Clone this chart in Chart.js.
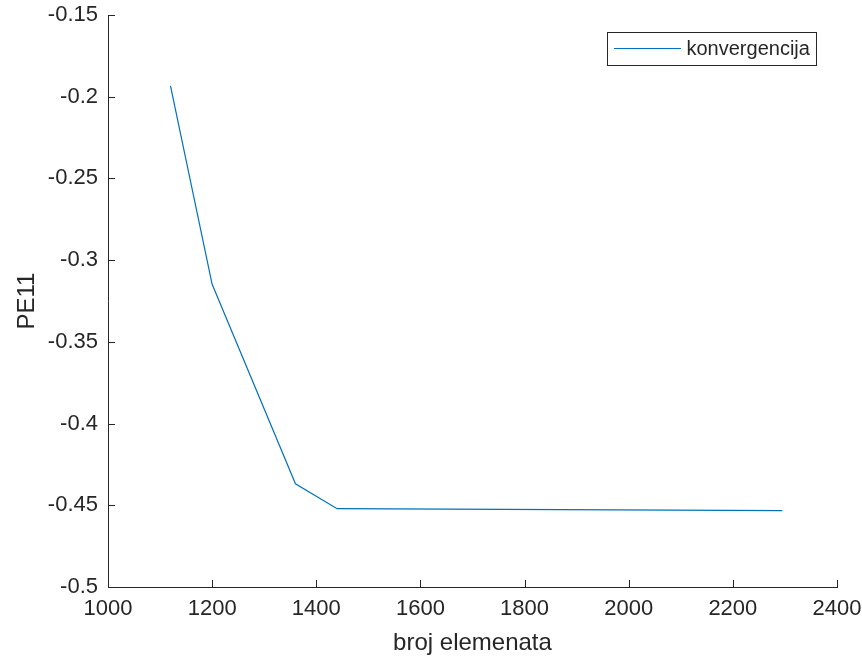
<!DOCTYPE html>
<html>
<head>
<meta charset="utf-8">
<script src="https://cdn.jsdelivr.net/npm/chart.js@4"></script>
<style>
html,body{margin:0;padding:0;background:#fff;}
#wrap{width:862px;height:660px;}
</style>
</head>
<body>
<div id="wrap"><canvas id="c" width="862" height="660"></canvas></div>
<script>
// ---- data ----
const elementCounts = [1120, 1200, 1360, 1440, 2295];
const pe11Values = [-0.1934, -0.3148, -0.4368, -0.4521, -0.4533];
const seriesLabel = 'konvergencija';
const xTickValues = [1000, 1200, 1400, 1600, 1800, 2000, 2200, 2400];
const yTickValues = [-0.5, -0.45, -0.4, -0.35, -0.3, -0.25, -0.2, -0.15];
const xTitle = 'broj elemenata';
const yTitle = 'PE11';

const FONT = "'Liberation Sans', Arial, Helvetica, sans-serif";
const TXT = '#262626';
const LINE = '#0072BD';

const points = elementCounts.map((x, i) => ({x: x, y: pe11Values[i]}));

// inward ticks + legend box (MATLAB style)
const matlabDecor = {
  id: 'matlabDecor',
  afterDraw(chart) {
    const ctx = chart.ctx;
    const xs = chart.scales.x, ys = chart.scales.y;
    const a = chart.chartArea;
    const tl = 7;
    ctx.save();
    ctx.strokeStyle = TXT;
    ctx.lineWidth = 1;
    ctx.beginPath();
    xTickValues.forEach(v => {
      const px = Math.round(xs.getPixelForValue(v)) + 0.5;
      ctx.moveTo(px, a.bottom);
      ctx.lineTo(px, a.bottom - tl);
    });
    yTickValues.forEach(v => {
      const py = Math.round(ys.getPixelForValue(v)) + 0.5;
      ctx.moveTo(a.left, py);
      ctx.lineTo(a.left + tl, py);
    });
    ctx.stroke();

    // legend
    const ds = chart.data.datasets[0];
    const bx = 607.5, by = 32.5, bw = 209, bh = 33;
    ctx.fillStyle = '#fff';
    ctx.fillRect(bx, by, bw, bh);
    ctx.strokeStyle = TXT;
    ctx.lineWidth = 1;
    ctx.strokeRect(bx, by, bw, bh);
    ctx.strokeStyle = ds.borderColor;
    ctx.lineWidth = ds.borderWidth;
    ctx.beginPath();
    ctx.moveTo(614, 48.5);
    ctx.lineTo(681, 48.5);
    ctx.stroke();
    ctx.fillStyle = TXT;
    ctx.font = '20px ' + FONT;
    ctx.textBaseline = 'middle';
    ctx.textAlign = 'left';
    ctx.fillText(ds.label, 686.5, 49.5);
    ctx.restore();
  }
};

new Chart(document.getElementById('c'), {
  type: 'line',
  data: {
    datasets: [{
      label: seriesLabel,
      data: points,
      borderColor: LINE,
      backgroundColor: LINE,
      borderWidth: 1.2,
      pointRadius: 0,
      tension: 0,
      fill: false
    }]
  },
  options: {
    responsive: false,
    animation: false,
    devicePixelRatio: 1,
    layout: {padding: {left: 0, top: 15, right: 25, bottom: 0}},
    plugins: {legend: {display: false}, tooltip: {enabled: false}},
    scales: {
      x: {
        type: 'linear',
        min: 1000, max: 2400,
        afterBuildTicks: s => { s.ticks = xTickValues.map(v => ({value: v})); },
        afterFit: s => { s.height = 73; s.paddingLeft = 0; s.paddingRight = 0; },
        ticks: {
          color: TXT,
          font: {family: FONT, size: 22},
          padding: 9,
          maxRotation: 0,
          autoSkip: false,
          callback: v => String(v)
        },
        grid: {display: false, drawTicks: false},
        border: {display: true, color: TXT, width: 1},
        title: {
          display: true, text: xTitle, color: TXT,
          font: {family: FONT, size: 24}, padding: {top: 0, bottom: 2}
        }
      },
      y: {
        type: 'linear',
        min: -0.5, max: -0.15,
        afterBuildTicks: s => { s.ticks = yTickValues.map(v => ({value: v})); },
        afterFit: s => { s.width = 108; s.paddingTop = 0; s.paddingBottom = 0; },
        ticks: {
          color: TXT,
          font: {family: FONT, size: 22},
          padding: 10,
          autoSkip: false,
          callback: v => String(Number(v.toFixed(2)))
        },
        grid: {display: false, drawTicks: false},
        border: {display: true, color: TXT, width: 1},
        title: {
          display: true, text: yTitle, color: TXT,
          font: {family: FONT, size: 24}, padding: {top: 13, bottom: 0}
        }
      }
    }
  },
  plugins: [matlabDecor]
});
</script>
</body>
</html>
